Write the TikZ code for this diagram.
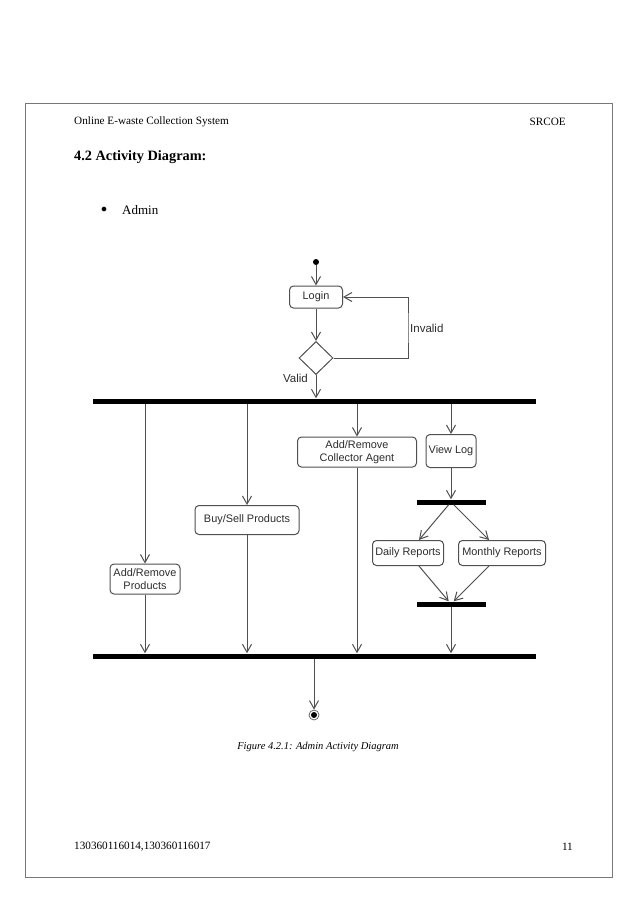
\documentclass[tikz,border=0pt]{standalone}
\usepackage{fontspec}
\setmainfont{Liberation Serif}
\newfontfamily\diagfont{Liberation Sans}
\usepackage{xcolor}
\usepackage{tikz}
\usetikzlibrary{shapes.geometric,arrows.meta}
\definecolor{pageline}{RGB}{120, 120, 120}
\definecolor{flowline}{RGB}{80, 80, 80}
\definecolor{boxtext}{RGB}{45, 45, 45}

\tikzset{
  flow/.style={draw=flowline, line width=1, -{Straight Barb[length=8,width=9]}},
  activity/.style={draw=flowline, line width=1, rounded corners=4, fill=white, inner sep=0,
    align=center, text=boxtext, font=\diagfont\fontsize{10.9}{12.5}\selectfont},
  bar/.style={fill=black, inner sep=0, minimum height=5},
  lbl/.style={text=boxtext, font=\diagfont\fontsize{11.5}{13}\selectfont, inner sep=0},
  pagetext/.style={font=\fontsize{11.2}{13}\selectfont, inner sep=0}
}

\begin{document}
\begin{tikzpicture}[x=1pt, y=-1pt]
\useasboundingbox[fill=white] (0,0) rectangle (638,903);

% Page
\draw[pageline, line width=1] (25,103) rectangle (612,877);
\node[pagetext, anchor=west] (head) at (74,122) {Online E-waste Collection System};
\node[pagetext, anchor=east] (college) at (566,122) {SRCOE};
\node[pagetext, anchor=west, font=\bfseries\fontsize{14.3}{16}\selectfont] (title) at (74,157) {4.2 Activity Diagram:};
\node[pagetext, anchor=west, font=\fontsize{13}{15}\selectfont] (bullet) at (101,210) {$\bullet$};
\node[pagetext, anchor=west, font=\fontsize{13}{15}\selectfont] (admin) at (122,210) {Admin};

% Start and login
\node[circle, fill=black, minimum size=6, inner sep=0] (start) at (316,262) {};
\node[activity, minimum width=53, minimum height=22] (login) at (316,297) {Login};
\node[diamond, draw=flowline, line width=1, fill=white, minimum width=34, minimum height=33, inner sep=0] (dec) at (316,358) {};
\coordinate (loop) at (408,328);

% Bars
\node[bar, minimum width=443] (topbar) at (314,401) {};
\node[bar, minimum width=443] (botbar) at (314,656) {};
\node[bar, minimum width=69] (fork) at (451,502) {};
\node[bar, minimum width=69] (join) at (451,604) {};

% Activities
\node[activity, minimum width=70, minimum height=30] (addprod) at (145,579) {Add/Remove\\Products};
\node[activity, minimum width=104, minimum height=29] (buysell) at (247,520) {Buy/Sell Products};
\node[activity, minimum width=119, minimum height=30] (agent) at (357,452) {Add/Remove\\Collector Agent};
\node[activity, minimum width=50, minimum height=33] (viewlog) at (451,451) {View Log};
\node[activity, minimum width=71, minimum height=25] (daily) at (408,553) {Daily Reports};
\node[activity, minimum width=87, minimum height=25] (monthly) at (502,553) {Monthly Reports};

% End
\node[circle, draw=black!60, line width=0.8, fill=white, minimum size=10, inner sep=0,
  path picture={\fill[black] (path picture bounding box.center) circle (3);}] (final) at (314,715) {};

% Arrows
\draw[flow] (start) -- (login);
\draw[flow] (login) -- (dec);
\draw[flow] (dec.east) -| (loop) |- (login.east);
\draw[flow] (dec) -- (dec |- topbar.north);
\draw[flow] (topbar.south -| addprod) -- (addprod);
\draw[flow] (topbar.south -| buysell) -- (buysell);
\draw[flow] (topbar.south -| agent) -- (agent);
\draw[flow] (topbar.south -| viewlog) -- (viewlog);
\draw[flow] (viewlog) -- (viewlog |- fork.north);
\draw[flow] (fork) -- (daily);
\draw[flow] (fork) -- (monthly);
\draw[flow] (daily) -- (join);
\draw[flow] (monthly) -- (join);
\draw[flow] (addprod) -- (addprod |- botbar.north);
\draw[flow] (buysell) -- (buysell |- botbar.north);
\draw[flow] (agent) -- (agent |- botbar.north);
\draw[flow] (join) -- (join |- botbar.north);
\draw[flow] (botbar) -- (final);

% Labels
\node[lbl, anchor=west] (invalid) at ([xshift=2]loop) {Invalid};
\node[lbl, anchor=east] (valid) at (308,378) {Valid};
\node[pagetext, font=\itshape\fontsize{10.5}{12}\selectfont] (caption) at (318,747) {Figure 4.2.1: Admin Activity Diagram};
\node[pagetext, anchor=west] (ids) at (74,847) {130360116014,130360116017};
\node[pagetext, anchor=east] (page) at (573,847) {11};
\end{tikzpicture}
\end{document}
